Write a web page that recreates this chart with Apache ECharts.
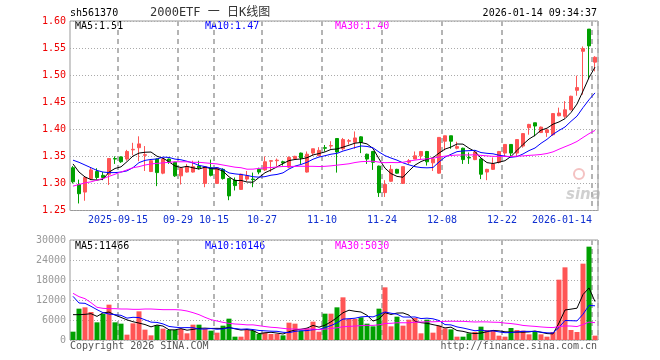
<!DOCTYPE html>
<html><head><meta charset="utf-8">
<script src="https://cdn.jsdelivr.net/npm/echarts@6/dist/echarts.min.js"></script>
<style>html,body{margin:0;padding:0;background:#fff}#c{width:660px;height:360px}</style>
</head><body><div id="c"></div>
<script>
const dates = [
'2025-09-03','2025-09-04','2025-09-05','2025-09-08','2025-09-09','2025-09-10','2025-09-11','2025-09-12','2025-09-15','2025-09-16','2025-09-17','2025-09-18','2025-09-19','2025-09-22','2025-09-23','2025-09-24','2025-09-25','2025-09-26','2025-09-29','2025-09-30',
'2025-10-09','2025-10-10','2025-10-13','2025-10-14','2025-10-15','2025-10-16','2025-10-17','2025-10-20','2025-10-21','2025-10-22','2025-10-23','2025-10-24','2025-10-27','2025-10-28','2025-10-29','2025-10-30','2025-10-31',
'2025-11-03','2025-11-04','2025-11-05','2025-11-06','2025-11-07','2025-11-10','2025-11-11','2025-11-12','2025-11-13','2025-11-14','2025-11-17','2025-11-18','2025-11-19','2025-11-20','2025-11-21','2025-11-24','2025-11-25','2025-11-26','2025-11-27','2025-11-28',
'2025-12-01','2025-12-02','2025-12-03','2025-12-04','2025-12-05','2025-12-08','2025-12-09','2025-12-10','2025-12-11','2025-12-12','2025-12-15','2025-12-16','2025-12-17','2025-12-18','2025-12-19','2025-12-22','2025-12-23','2025-12-24','2025-12-25','2025-12-26','2025-12-29','2025-12-30','2025-12-31',
'2026-01-05','2026-01-06','2026-01-07','2026-01-08','2026-01-09','2026-01-12','2026-01-13','2026-01-14'];

const openP = [1.329,1.298,1.284,1.309,1.322,1.315,1.317,1.346,1.349,1.345,
1.362,1.366,1.352,1.322,1.345,1.319,1.345,1.339,1.314,1.321,
1.321,1.332,1.300,1.329,1.300,1.326,1.309,1.306,1.289,1.308,
1.308,1.326,1.325,1.341,1.342,1.340,1.330,1.346,1.356,1.321,
1.356,1.351,1.366,1.369,1.383,1.364,1.378,1.376,1.386,1.354,
1.359,1.332,1.283,1.304,1.326,1.300,1.339,1.345,1.351,1.359,
1.338,1.319,1.378,1.388,1.365,1.365,1.348,1.344,1.345,1.321,
1.326,1.339,1.356,1.372,1.356,1.369,1.403,1.412,1.394,1.394,
1.390,1.425,1.424,1.436,1.472,1.544,1.585,1.524];
const closeP = [1.303,1.281,1.311,1.325,1.311,1.311,1.346,1.345,1.340,1.359,
1.363,1.373,1.353,1.342,1.320,1.345,1.340,1.314,1.328,1.331,
1.331,1.329,1.331,1.315,1.329,1.309,1.277,1.296,1.317,1.314,
1.307,1.321,1.340,1.342,1.343,1.338,1.348,1.350,1.347,1.354,
1.364,1.361,1.365,1.370,1.358,1.381,1.379,1.384,1.376,1.345,
1.339,1.283,1.298,1.326,1.319,1.331,1.342,1.351,1.359,1.340,
1.345,1.385,1.388,1.378,1.368,1.344,1.347,1.358,1.317,1.326,
1.336,1.359,1.372,1.356,1.381,1.392,1.409,1.406,1.404,1.399,
1.429,1.430,1.436,1.461,1.477,1.549,1.554,1.533];
const lowP = [1.300,1.263,1.268,1.306,1.307,1.306,1.297,1.336,1.338,1.342,
1.352,1.341,1.323,1.321,1.295,1.317,1.336,1.312,1.298,1.320,
1.320,1.326,1.293,1.313,1.299,1.307,1.269,1.287,1.288,1.304,
1.293,1.317,1.323,1.321,1.332,1.333,1.328,1.345,1.336,1.320,
1.351,1.351,1.359,1.364,1.320,1.361,1.372,1.364,1.356,1.336,
1.325,1.275,1.275,1.303,1.318,1.299,1.336,1.345,1.345,1.333,
1.323,1.318,1.361,1.364,1.363,1.336,1.336,1.343,1.308,1.306,
1.325,1.337,1.349,1.349,1.350,1.366,1.390,1.387,1.393,1.386,
1.388,1.424,1.421,1.435,1.462,1.464,1.493,1.507];
const highP = [1.332,1.307,1.312,1.329,1.328,1.321,1.347,1.350,1.350,1.362,
1.375,1.387,1.369,1.344,1.346,1.347,1.346,1.340,1.330,1.336,
1.342,1.342,1.332,1.344,1.330,1.328,1.310,1.311,1.318,1.323,
1.320,1.329,1.350,1.343,1.346,1.342,1.350,1.351,1.357,1.359,
1.364,1.367,1.371,1.378,1.383,1.384,1.382,1.396,1.387,1.355,
1.360,1.333,1.306,1.334,1.327,1.331,1.345,1.359,1.360,1.360,
1.346,1.385,1.388,1.388,1.377,1.366,1.357,1.358,1.346,1.327,
1.348,1.360,1.372,1.372,1.382,1.393,1.410,1.412,1.405,1.400,
1.430,1.440,1.452,1.462,1.499,1.553,1.585,1.535];
const volume = [2500,9400,9800,8400,5300,7800,10600,5300,4900,1600,
5000,8600,3100,1400,4400,3400,3000,3000,3300,2000,
4600,4600,3300,2800,2200,4300,6400,1000,1000,3000,
2800,1800,2200,1800,1800,1400,5200,4900,2800,3500,
5500,2500,7900,7900,9800,12800,6300,6300,6800,4900,
4100,9400,15800,4100,7000,4300,6100,6600,2000,6100,
2200,4300,3500,3200,1000,1000,2000,2400,4000,3000,
3000,1300,1000,3600,3000,2800,1700,2400,1700,1000,
2400,18100,21800,3000,2400,22900,28000,1300];

// moving-average values before a full window exists
const ma5Head = [1.336,1.321,1.312,1.307];
const ma10Head = [1.343,1.339,1.334,1.329,1.324,1.321,1.320,1.320,1.321];
const ma30Head = [1.295,1.298,1.301,1.303,1.306,1.309,1.313,1.317,1.321,1.325,
1.329,1.331,1.334,1.336,1.337,1.338,1.339,1.340,1.340,1.340,
1.339,1.339,1.338,1.337,1.336,1.334,1.332,1.330,1.329];
const vma5Head = [7600,7600,7700,7900];
const vma10Head = [13100,11100,11000,10100,9100,8200,7800,7600,7400];
const vma30Head = [14000,13000,12400,11200,9800,9500,9400,9400,9300,9300,
9200,9200,9300,9300,9200,9100,9100,9100,9000,8700,
8200,7600,6800,6100,5700,5300,5000,4800,4700];

const tickDates = ['2025-09-15','2025-09-29','2025-10-15','2025-10-27','2025-11-10','2025-11-24','2025-12-08','2025-12-22','2026-01-14'];
const tickLabels = ['2025-09-15','09-29','10-15','10-27','11-10','11-24','12-08','12-22','2026-01-14'];
const priceTicks = [1.25,1.60,0.05];
const volTicks = [0,30000,6000];
const headerText = {code:'sh561370', title:'2000ETF 一 日K线图', time:'2026-01-14 09:34:37'};
const priceLegend = ['MA5:1.51','MA10:1.47','MA30:1.40'];
const volLegend = ['MA5:11466','MA10:10146','MA30:5030'];

function ma(arr, n, head){
  const out=[];
  for(let i=0;i<arr.length;i++){
    if(i<n-1){out.push(head[i]);continue;}
    let s=0; for(let k=i-n+1;k<=i;k++) s+=arr[k];
    out.push(+(s/n).toFixed(4));
  }
  return out;
}

const RED='#ff5555', GREEN='#00a000';
const MONO='"DejaVu Sans Mono","Liberation Mono",monospace';
const candles = dates.map((d,i)=>[openP[i],closeP[i],lowP[i],highP[i]]);
const volBars = volume.map((v,i)=>({value:v,itemStyle:{color: closeP[i]>=openP[i]?RED:GREEN}}));
const isTick = (idx,val)=>tickDates.indexOf(val)>=0;

function xAxisFor(g, showLabel){
  return {type:'category',gridIndex:g,data:dates,boundaryGap:true,
    axisLine:{show:false},axisTick:{show:false},
    axisLabel:{show:showLabel,interval:isTick,margin:5,color:'#1030d0',fontFamily:MONO,fontSize:10,
      formatter:(v)=>{const k=tickDates.indexOf(v); if(k<0) return ''; return k===tickDates.length-1?'{b|'+tickLabels[k]+'}':'{a|'+tickLabels[k]+'}';},
      rich:{a:{padding:[0,6,0,0],color:'#1030d0',fontFamily:MONO,fontSize:10},b:{padding:[0,66,0,0],color:'#1030d0',fontFamily:MONO,fontSize:10}}},
    splitLine:{show:true,interval:isTick,lineStyle:{color:'#b4b4b4',width:2,type:[5,4]}}};
}

const chart = echarts.init(document.getElementById('c'),null,{renderer:'canvas'});
const lineS = (name,data,color,x,y)=>({name,type:'line',data,xAxisIndex:x,yAxisIndex:y,symbol:'none',
  lineStyle:{color,width:1},itemStyle:{color},z:5,silent:true,animation:false});

chart.setOption({
  animation:false,
  backgroundColor:'#fff',
  grid:[{left:70,top:21,width:528,height:189.5,show:true,borderColor:'#999',borderWidth:1,backgroundColor:'transparent'},
        {left:70,top:240,width:528,height:100,show:true,borderColor:'#999',borderWidth:1,backgroundColor:'transparent'}],
  xAxis:[xAxisFor(0,true), xAxisFor(1,false)],
  yAxis:[
    {type:'value',gridIndex:0,min:priceTicks[0],max:priceTicks[1],interval:priceTicks[2],
     axisLine:{show:false},axisTick:{show:false},
     axisLabel:{color:'#ee0000',fontFamily:MONO,fontSize:10,margin:4,formatter:v=>v.toFixed(2)},
     splitLine:{lineStyle:{color:'#aaa',type:[1,2]}}},
    {type:'value',gridIndex:1,min:volTicks[0],max:volTicks[1],interval:volTicks[2],
     axisLine:{show:false},axisTick:{show:false},
     axisLabel:{color:'#999',fontFamily:MONO,fontSize:10,margin:4,formatter:v=>String(v)},
     splitLine:{lineStyle:{color:'#aaa',type:[1,2]}}}
  ],
  series:[
    {type:'candlestick',data:candles,xAxisIndex:0,yAxisIndex:0,barWidth:4,z:3,
     itemStyle:{color:RED,color0:GREEN,borderColor:RED,borderColor0:GREEN,borderColorDoji:RED,borderWidth:1}},
    lineS('MA5',ma(closeP,5,ma5Head),'#000000',0,0),
    lineS('MA10',ma(closeP,10,ma10Head),'#0000ff',0,0),
    lineS('MA30',ma(closeP,30,ma30Head),'#ff00ff',0,0),
    {type:'bar',data:volBars,xAxisIndex:1,yAxisIndex:1,barWidth:5,z:3},
    lineS('VMA5',ma(volume,5,vma5Head),'#000000',1,1),
    lineS('VMA10',ma(volume,10,vma10Head),'#0000ff',1,1),
    lineS('VMA30',ma(volume,30,vma30Head),'#ff00ff',1,1)
  ],
  graphic:[
    {type:'text',x:70,y:13,style:{text:headerText.code,fill:'#000',font:'10px '+MONO,textAlign:'left',textVerticalAlign:'middle',align:'left',verticalAlign:'middle'}},
    {type:'text',x:150,y:13,style:{text:headerText.title,fill:'#333',font:'12px "DejaVu Sans Mono","Noto Sans CJK SC",monospace',textAlign:'left',textVerticalAlign:'middle',align:'left',verticalAlign:'middle'}},
    {type:'text',x:597,y:13,style:{text:headerText.time,fill:'#000',font:'10px '+MONO,textAlign:'right',textVerticalAlign:'middle',align:'right',verticalAlign:'middle'}},
    {type:'text',x:75,y:26,style:{text:priceLegend[0],fill:'#000',font:'10px '+MONO,textVerticalAlign:'middle',verticalAlign:'middle'}},
    {type:'text',x:205,y:26,style:{text:priceLegend[1],fill:'#0000ff',font:'10px '+MONO,textVerticalAlign:'middle',verticalAlign:'middle'}},
    {type:'text',x:335,y:26,style:{text:priceLegend[2],fill:'#ff00ff',font:'10px '+MONO,textVerticalAlign:'middle',verticalAlign:'middle'}},
    {type:'text',x:75,y:246.5,style:{text:volLegend[0],fill:'#000',font:'10px '+MONO,textVerticalAlign:'middle',verticalAlign:'middle'}},
    {type:'text',x:205,y:246.5,style:{text:volLegend[1],fill:'#0000ff',font:'10px '+MONO,textVerticalAlign:'middle',verticalAlign:'middle'}},
    {type:'text',x:335,y:246.5,style:{text:volLegend[2],fill:'#ff00ff',font:'10px '+MONO,textVerticalAlign:'middle',verticalAlign:'middle'}},
    {type:'text',x:70,y:346,style:{text:'Copyright 2026 SINA.COM',fill:'#555',font:'10px '+MONO,textVerticalAlign:'middle',verticalAlign:'middle'}},
    {type:'text',x:597,y:346,style:{text:'http://finance.sina.com.cn',fill:'#555',font:'10px '+MONO,textAlign:'right',align:'right',textVerticalAlign:'middle',verticalAlign:'middle'}},
    {type:'circle',shape:{cx:579,cy:174,r:5},style:{fill:'none',stroke:'rgba(230,120,120,0.45)',lineWidth:2},z:0},
    {type:'text',x:566,y:195,style:{text:'sina',fill:'rgba(150,150,150,0.45)',font:'italic bold 15px "DejaVu Sans",sans-serif',textVerticalAlign:'middle',verticalAlign:'middle'},z:0}
  ]
});
</script></body></html>
